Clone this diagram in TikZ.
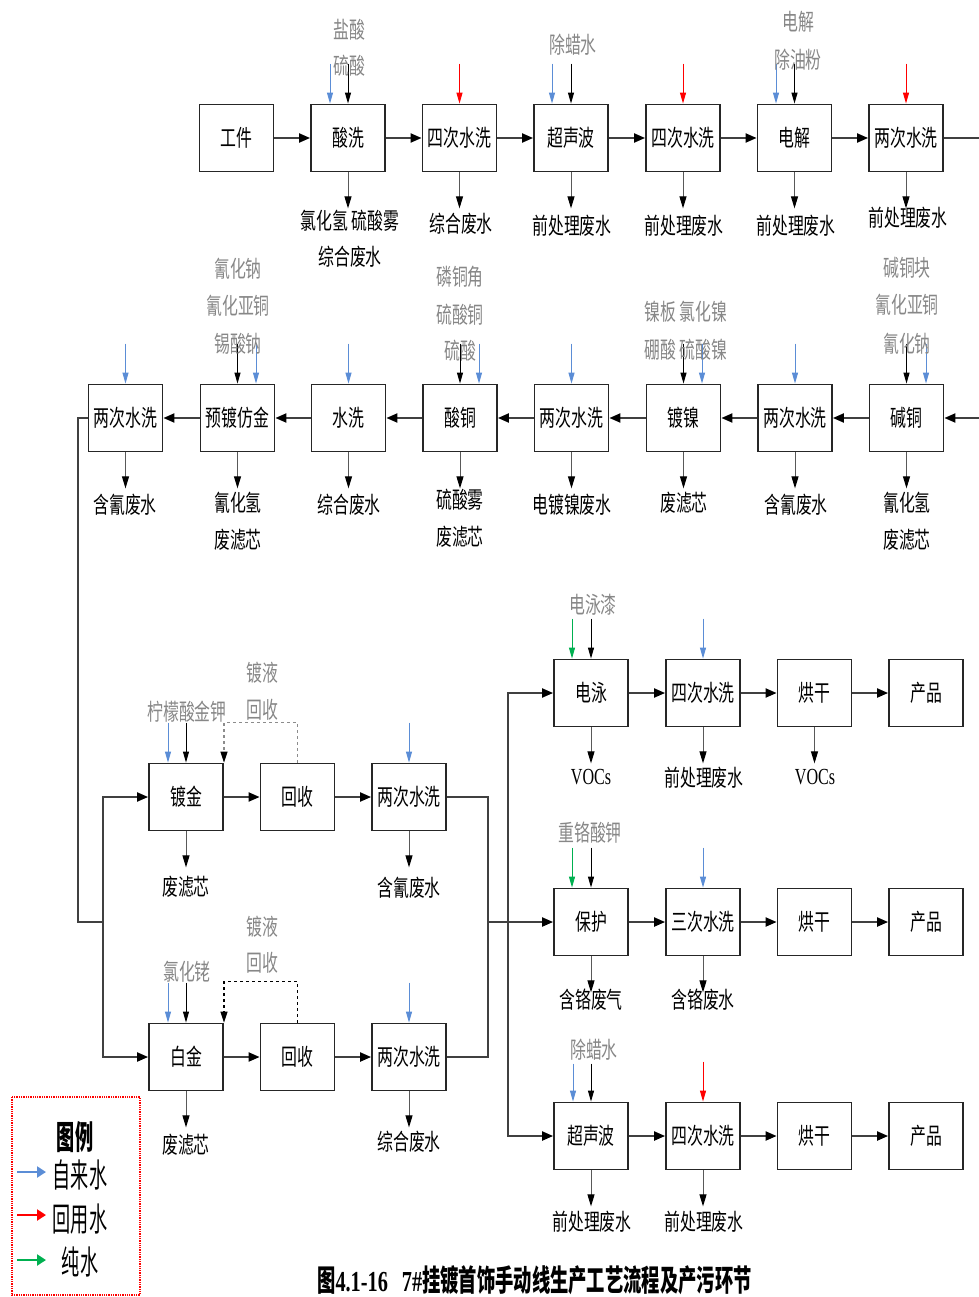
\documentclass[tikz,border=0pt]{standalone}
\usepackage{fontspec}
\setmainfont{Liberation Serif}
\newfontfamily\cjk[FakeStretch=0.69]{Noto Sans CJK SC}
\newfontfamily\cjkl[FakeStretch=0.55]{Noto Sans CJK SC}
\newfontfamily\cjkc[FakeStretch=0.61]{Noto Sans CJK SC}
\newfontfamily\ser[FakeStretch=0.7]{Liberation Serif}
\usetikzlibrary{arrows.meta,calc}
\definecolor{tapblue}{RGB}{91,141,214}
\definecolor{recred}{RGB}{255,0,0}
\definecolor{puregreen}{RGB}{0,176,80}
\definecolor{labgray}{RGB}{135,135,135}
\begin{document}
\begin{tikzpicture}[x=1pt,y=-1pt,
 box/.style={draw=black!85, line width=1.8pt, fill=white, minimum width=74pt, minimum height=67pt, inner sep=0pt, font=\cjk\fontsize{23}{25}\selectfont},
 flow/.style={line width=2pt, draw=black!75, -{Triangle[length=11pt,width=9pt,color=black]}},
 plain/.style={line width=2pt, draw=black!75},
 inp/.style={line width=1pt, -{Triangle[length=11pt,width=6pt]}},
 outp/.style={line width=1pt, draw=black!65, -{Triangle[length=12pt,width=7pt,color=black]}},
 recyc/.style={line width=1.2pt, dashed, -{Triangle[length=11pt,width=7pt,color=black]}},
 lab/.style={font=\cjk\fontsize{23}{25}\selectfont, inner sep=0pt},
 glab/.style={lab, text=labgray},
 voc/.style={font=\ser\fontsize{23}{25}\selectfont, inner sep=0pt},
 legtxt/.style={font=\cjkl\fontsize{33}{35}\selectfont, inner sep=0pt},
 legarr/.style={line width=2.2pt, -{Triangle[length=9pt,width=11pt]}},
]
\useasboundingbox (0,0) rectangle (978,1297);

% ---------- row 1 ----------
\node[box] (a1) at (236.5,138) {工件};
\node[box] (a2) at (348,138) {酸洗};
\node[box] (a3) at (459.5,138) {四次水洗};
\node[box] (a4) at (571,138) {超声波};
\node[box] (a5) at (683,138) {四次水洗};
\node[box] (a6) at (794.5,138) {电解};
\node[box] (a7) at (906,138) {两次水洗};
\foreach \p/\q in {a1/a2,a2/a3,a3/a4,a4/a5,a5/a6,a6/a7} \draw[flow] (\p) -- (\q);

% ---------- row 2 ----------
\node[box] (b1) at (125.5,418) {两次水洗};
\node[box] (b2) at (237.5,418) {预镀仿金};
\node[box] (b3) at (348.5,418) {水洗};
\node[box] (b4) at (460,418) {酸铜};
\node[box] (b5) at (571.5,418) {两次水洗};
\node[box] (b6) at (683.5,418) {镀镍};
\node[box] (b7) at (795,418) {两次水洗};
\node[box] (b8) at (906.5,418) {碱铜};
\foreach \p/\q in {b8/b7,b7/b6,b6/b5,b5/b4,b4/b3,b3/b2,b2/b1} \draw[flow] (\p) -- (\q);
\draw[flow] (a7.east) -- ++(45,0) |- (b8.east);

% ---------- bottom left ----------
\node[box] (c1) at (186,797) {镀金};
\node[box] (c2) at (297.5,797) {回收};
\node[box] (c3) at (409,797) {两次水洗};
\node[box] (d1) at (186,1057) {白金};
\node[box] (d2) at (297.5,1057) {回收};
\node[box] (d3) at (409,1057) {两次水洗};
\draw[flow] (c1) -- (c2); \draw[flow] (c2) -- (c3);
\draw[flow] (d1) -- (d2); \draw[flow] (d2) -- (d3);
\coordinate (jl) at (103,922);
\coordinate (jm) at (488,922);
\coordinate (jr) at (508,922);
\draw[plain] (b1.west) -| (78,922) -- (jl);
\draw[flow] (jl) |- (c1.west);
\draw[flow] (jl) |- (d1.west);
\draw[plain] (c3.east) -| (jm);
\draw[plain] (d3.east) -| (jm);
\draw[plain] (jm) -- (jr);

% ---------- right ----------
\node[box] (e1) at (591,693) {电泳};
\node[box] (e2) at (703,693) {四次水洗};
\node[box] (e3) at (814.5,693) {烘干};
\node[box] (e4) at (926,693) {产品};
\node[box] (f1) at (591,922) {保护};
\node[box] (f2) at (703,922) {三次水洗};
\node[box] (f3) at (814.5,922) {烘干};
\node[box] (f4) at (926,922) {产品};
\node[box] (g1) at (591,1136) {超声波};
\node[box] (g2) at (703,1136) {四次水洗};
\node[box] (g3) at (814.5,1136) {烘干};
\node[box] (g4) at (926,1136) {产品};
\foreach \p/\q in {e1/e2,e2/e3,e3/e4,f1/f2,f2/f3,f3/f4,g1/g2,g2/g3,g3/g4} \draw[flow] (\p) -- (\q);
\draw[flow] (jr) |- (e1.west);
\draw[flow] (jr) -- (f1.west);
\draw[flow] (jr) |- (g1.west);

% ---------- recovery (dashed) ----------
\draw[recyc, draw=black!45] (c2.north) -- ++(0,-40) -| ([xshift=38pt]c1.north);
\draw[recyc, draw=black] (d2.north) -- ++(0,-41) -| ([xshift=38pt]d1.north);

% ---------- input arrows ----------
\newcommand\inarr[4]{\draw[inp,#1] ([xshift=#3pt,yshift=#4pt]#2.north) -- ([xshift=#3pt]#2.north);}
\inarr{tapblue}{a2}{-18}{40} \inarr{black}{a2}{0}{40}
\inarr{recred}{a3}{0}{40}
\inarr{tapblue}{a4}{-19}{40} \inarr{black}{a4}{0}{40}
\inarr{recred}{a5}{0}{40}
\inarr{tapblue}{a6}{-18.5}{40} \inarr{black}{a6}{0}{40}
\inarr{recred}{a7}{0}{40}
\inarr{tapblue}{b1}{0}{40}
\inarr{black}{b2}{0}{40} \inarr{tapblue}{b2}{18.5}{40}
\inarr{tapblue}{b3}{0}{40}
\inarr{black}{b4}{0}{40} \inarr{tapblue}{b4}{19}{40}
\inarr{tapblue}{b5}{0}{40}
\inarr{black}{b6}{0}{40} \inarr{tapblue}{b6}{18.5}{40}
\inarr{tapblue}{b7}{0}{40}
\inarr{black}{b8}{0}{40} \inarr{tapblue}{b8}{19.5}{40}
\inarr{tapblue}{c1}{-18}{40} \inarr{black}{c1}{0}{40}
\inarr{tapblue}{c3}{0}{40}
\inarr{tapblue}{d1}{-18}{40} \inarr{black}{d1}{0}{40}
\inarr{tapblue}{d3}{0}{40}
\inarr{puregreen}{e1}{-19}{40} \inarr{black}{e1}{0}{40}
\inarr{tapblue}{e2}{0}{40}
\inarr{puregreen}{f1}{-19}{40} \inarr{black}{f1}{0}{40}
\inarr{tapblue}{f2}{0}{40}
\inarr{tapblue}{g1}{-18}{38} \inarr{black}{g1}{0}{38}
\inarr{recred}{g2}{0}{40}

% ---------- output arrows ----------
\foreach \n in {a2,a3,a4,a5,a6,a7,b1,b2,b3,b4,b5,b6,b7,b8,c1,c3,d1,d3,e1,e2,e3,f1,f2,g1,g2}
  \draw[outp] (\n.south) -- ++(0,36);

% ---------- input labels ----------
\node[glab] (t1) at (349,30) {盐酸};
\node[glab] (t2) at (349,66) {硫酸};
\node[glab] (t3) at (573,45) {除蜡水};
\node[glab] (t4) at (798,22) {电解};
\node[glab] (t5) at (798,60) {除油粉};
\node[glab] (t6) at (238,269) {氰化钠};
\node[glab] (t7) at (238,306) {氰化亚铜};
\node[glab] (t8) at (238,344) {锡酸钠};
\node[glab] (t9) at (460,277) {磷铜角};
\node[glab] (t10) at (460,315) {硫酸铜};
\node[glab] (t11) at (460,351) {硫酸};
\node[glab] (t12) at (686,312) {镍板 氯化镍};
\node[glab] (t13) at (686,350) {硼酸 硫酸镍};
\node[glab] (t14) at (907,268) {碱铜块};
\node[glab] (t15) at (907,305) {氰化亚铜};
\node[glab] (t16) at (907,344) {氰化钠};
\node[glab] (t17) at (187,712) {柠檬酸金钾};
\node[glab] (t18) at (262,673) {镀液};
\node[glab] (t19) at (262,710) {回收};
\node[glab] (t20) at (187,972) {氯化铑};
\node[glab] (t21) at (262,927) {镀液};
\node[glab] (t22) at (262,963) {回收};
\node[glab] (t23) at (593,605) {电泳漆};
\node[glab] (t24) at (590,833) {重铬酸钾};
\node[glab] (t25) at (594,1050) {除蜡水};

% ---------- output labels ----------
\node[lab] (o1) at (350,221) {氯化氢 硫酸雾};
\node[lab] (o2) at (350,257) {综合废水};
\node[lab] (o3) at (461,224) {综合废水};
\node[lab] (o4) at (572,226) {前处理废水};
\node[lab] (o5) at (684,226) {前处理废水};
\node[lab] (o6) at (796,226) {前处理废水};
\node[lab] (o7) at (908,218) {前处理废水};
\node[lab] (o8) at (125,505) {含氰废水};
\node[lab] (o9) at (238,503) {氰化氢};
\node[lab] (o10) at (238,540) {废滤芯};
\node[lab] (o11) at (349,505) {综合废水};
\node[lab] (o12) at (460,500) {硫酸雾};
\node[lab] (o13) at (460,537) {废滤芯};
\node[lab] (o14) at (572,505) {电镀镍废水};
\node[lab] (o15) at (684,503) {废滤芯};
\node[lab] (o16) at (796,505) {含氰废水};
\node[lab] (o17) at (907,503) {氰化氢};
\node[lab] (o18) at (907,540) {废滤芯};
\node[lab] (o19) at (186,887) {废滤芯};
\node[lab] (o20) at (409,888) {含氰废水};
\node[lab] (o21) at (186,1145) {废滤芯};
\node[lab] (o22) at (409,1142) {综合废水};
\node[voc] (o23) at (591,777) {VOCs};
\node[lab] (o24) at (704,778) {前处理废水};
\node[voc] (o25) at (815,777) {VOCs};
\node[lab] (o26) at (591,1000) {含铬废气};
\node[lab] (o27) at (703,1000) {含铬废水};
\node[lab] (o28) at (592,1222) {前处理废水};
\node[lab] (o29) at (704,1222) {前处理废水};

% ---------- legend ----------
\draw[recred, densely dotted, line width=1.3pt] (12,1097) rectangle (140,1295);
\node[legtxt, font=\cjkl\bfseries\fontsize{33}{35}\selectfont] (lg) at (75,1137) {图例};
\coordinate (lb0) at (17,1172); \coordinate (lb1) at (46,1172);
\coordinate (lr0) at (17,1215); \coordinate (lr1) at (46,1215);
\coordinate (lg0) at (17,1260); \coordinate (lg1) at (46,1260);
\draw[legarr, tapblue] (lb0) -- (lb1);
\draw[legarr, recred] (lr0) -- (lr1);
\draw[legarr, puregreen] (lg0) -- (lg1);
\node[legtxt] (l1) at (80,1175) {自来水};
\node[legtxt] (l2) at (80,1219) {回用水};
\node[legtxt] (l3) at (80,1262) {纯水};

% ---------- caption ----------
\node[anchor=west, inner sep=0pt] (cap) at (317,1280)
  {\cjkc\bfseries\fontsize{30}{32}\selectfont 图{\ser\bfseries\fontsize{29}{31}\selectfont 4.1-16\hspace{14pt}7\#}挂镀首饰手动线生产工艺流程及产污环节};
\end{tikzpicture}
\end{document}
